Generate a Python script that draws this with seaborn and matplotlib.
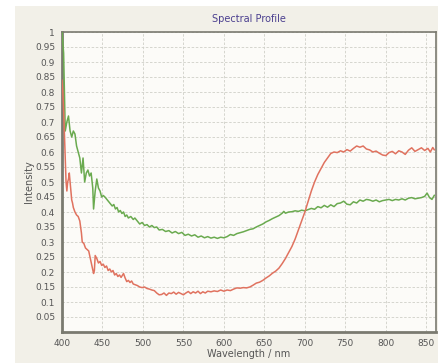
import numpy as np
import pandas as pd
import seaborn as sns
import matplotlib.pyplot as plt
from matplotlib.patches import Rectangle

# Spectral data
green_nm = [400, 402, 404, 406, 408, 410, 412, 414, 416, 418, 420, 422, 424, 426, 428, 430,
            432, 434, 436, 438, 439, 441, 443, 445, 447, 449, 451, 453, 456, 459, 462, 464,
            466, 468, 470, 472, 474, 476, 478, 480, 482, 485, 488, 490, 493, 496, 499, 502,
            505, 508, 511, 514, 517, 520, 524, 528, 532, 536, 540, 544, 548, 552, 556, 560,
            564, 568, 572, 576, 580, 584, 588, 592, 596, 600, 604, 608, 612, 616, 620, 624,
            628, 632, 636, 640, 644, 648, 652, 656, 660, 664, 668, 672, 674, 676, 680, 684,
            688, 692, 696, 700, 704, 708, 712, 716, 720, 724, 728, 732, 736, 740, 744, 748,
            752, 756, 760, 764, 768, 772, 776, 780, 784, 788, 792, 796, 800, 804, 808, 812,
            816, 820, 824, 828, 832, 836, 840, 844, 848, 851, 854, 857, 860]
green_val = [1.0, 0.93, 0.67, 0.70, 0.72, 0.67, 0.65, 0.67, 0.66, 0.62, 0.60, 0.58, 0.53, 0.58, 0.50, 0.53,
             0.54, 0.52, 0.53, 0.48, 0.41, 0.47, 0.51, 0.48, 0.47, 0.45, 0.455, 0.45, 0.44, 0.43, 0.42, 0.425,
             0.41, 0.415, 0.40, 0.405, 0.395, 0.40, 0.385, 0.39, 0.38, 0.385, 0.375, 0.38, 0.37, 0.36, 0.365, 0.355,
             0.358, 0.35, 0.355, 0.348, 0.35, 0.34, 0.342, 0.335, 0.338, 0.33, 0.335, 0.328, 0.332, 0.322, 0.326, 0.32,
             0.324, 0.316, 0.32, 0.314, 0.318, 0.313, 0.316, 0.312, 0.316, 0.314, 0.318, 0.325, 0.322, 0.328, 0.331, 0.334,
             0.338, 0.342, 0.344, 0.35, 0.355, 0.36, 0.367, 0.372, 0.378, 0.383, 0.388, 0.396, 0.402, 0.396, 0.40, 0.401,
             0.404, 0.402, 0.406, 0.404, 0.408, 0.412, 0.409, 0.418, 0.414, 0.422, 0.416, 0.424, 0.418, 0.428, 0.43, 0.436,
             0.426, 0.424, 0.434, 0.43, 0.44, 0.436, 0.442, 0.44, 0.436, 0.44, 0.434, 0.438, 0.44, 0.442, 0.438, 0.442,
             0.44, 0.444, 0.44, 0.446, 0.448, 0.444, 0.446, 0.448, 0.452, 0.463, 0.448, 0.442, 0.456]

red_nm = [400, 401, 402, 403, 404, 405, 406, 407, 408, 409, 410, 411, 412, 413, 414, 416,
          418, 420, 422, 424, 425, 427, 429, 431, 433, 435, 437, 439, 440, 441, 443, 445,
          447, 449, 451, 453, 455, 457, 459, 461, 463, 465, 467, 469, 471, 473, 476, 478,
          480, 482, 484, 486, 488, 490, 493, 496, 499, 502, 505, 508, 511, 514, 517, 520,
          523, 526, 529, 532, 535, 538, 541, 544, 547, 550, 553, 556, 559, 562, 565, 568,
          571, 574, 577, 580, 584, 588, 592, 596, 600, 604, 608, 612, 616, 620, 624, 628,
          632, 636, 640, 644, 648, 652, 656, 660, 664, 668, 672, 676, 680, 684, 688, 692,
          696, 700, 704, 708, 712, 716, 720, 724, 728, 732, 736, 740, 744, 748, 752, 756,
          760, 764, 768, 772, 776, 780, 784, 788, 792, 796, 800, 804, 808, 812, 816, 820,
          824, 828, 832, 836, 840, 844, 848, 852, 855, 858, 860]
red_val = [0.84, 0.80, 0.74, 0.66, 0.58, 0.50, 0.47, 0.50, 0.51, 0.53, 0.50, 0.47, 0.44, 0.43, 0.415, 0.40,
           0.39, 0.385, 0.37, 0.33, 0.30, 0.295, 0.28, 0.275, 0.27, 0.245, 0.22, 0.195, 0.205, 0.255, 0.245, 0.23,
           0.235, 0.222, 0.226, 0.215, 0.22, 0.205, 0.21, 0.20, 0.205, 0.19, 0.195, 0.185, 0.19, 0.182, 0.195, 0.18,
           0.168, 0.172, 0.165, 0.17, 0.16, 0.158, 0.155, 0.15, 0.148, 0.15, 0.145, 0.143, 0.14, 0.138, 0.13, 0.124,
           0.125, 0.13, 0.122, 0.13, 0.128, 0.133, 0.126, 0.132, 0.128, 0.124, 0.13, 0.135, 0.128, 0.134, 0.13, 0.136,
           0.128, 0.134, 0.13, 0.136, 0.134, 0.137, 0.135, 0.14, 0.136, 0.14, 0.138, 0.143, 0.147, 0.146, 0.148, 0.147,
           0.15, 0.156, 0.163, 0.166, 0.172, 0.18, 0.187, 0.196, 0.203, 0.213, 0.228, 0.245, 0.265, 0.285, 0.31, 0.34,
           0.37, 0.40, 0.435, 0.47, 0.50, 0.525, 0.545, 0.565, 0.58, 0.595, 0.60, 0.598, 0.604, 0.60, 0.608, 0.603,
           0.612, 0.62, 0.616, 0.62, 0.61, 0.607, 0.60, 0.603, 0.596, 0.59, 0.588, 0.598, 0.602, 0.594, 0.604, 0.60,
           0.592, 0.606, 0.614, 0.602, 0.608, 0.614, 0.605, 0.612, 0.60, 0.615, 0.607]

x_ticks = [400, 450, 500, 550, 600, 650, 700, 750, 800, 850]
y_ticks = [0.05, 0.1, 0.15, 0.2, 0.25, 0.3, 0.35, 0.4, 0.45, 0.5,
           0.55, 0.6, 0.65, 0.7, 0.75, 0.8, 0.85, 0.9, 0.95, 1]
y_labels = ['0.05', '0.1', '0.15', '0.2', '0.25', '0.3', '0.35', '0.4', '0.45', '0.5',
            '0.55', '0.6', '0.65', '0.7', '0.75', '0.8', '0.85', '0.9', '0.95', '1']

sns.set_style('white')
plt.rcParams['font.family'] = ['DejaVu Sans']

fig = plt.figure(figsize=(4.47, 3.63), dpi=100)
fig.patch.set_facecolor('white')
# beige panel behind the chart
panel = Rectangle((15 / 447, 0), 423 / 447, 357 / 363, transform=fig.transFigure,
                  facecolor='#f2f0e8', edgecolor='none', zorder=-10)
fig.add_artist(panel)

ax = fig.add_axes([62 / 447, 31 / 363, 374 / 447, 300 / 363])
ax.set_facecolor('#fcfbf8')

green_df = pd.DataFrame({'nm': green_nm, 'val': green_val})
red_df = pd.DataFrame({'nm': red_nm, 'val': red_val})
sns.lineplot(data=green_df, x='nm', y='val', color='#6aaa4f', linewidth=1.1, ax=ax, zorder=4)
sns.lineplot(data=red_df, x='nm', y='val', color='#e0725f', linewidth=1.1, ax=ax, zorder=4)

ax.set_xlim(400, 862)
ax.set_ylim(0, 1)
ax.set_xticks(x_ticks)
ax.set_yticks(y_ticks)
ax.set_yticklabels(y_labels)
ax.grid(True, color='#cfcfc8', linestyle=(0, (3, 2)), linewidth=0.6)
ax.set_axisbelow(True)
ax.tick_params(axis='both', labelsize=6.5, colors='#555555', length=3, width=0.6, pad=2)
for s in ax.spines.values():
    s.set_color('#7a7a70')
    s.set_linewidth(1.2)
ax.spines['left'].set_linewidth(2.0)
ax.spines['bottom'].set_linewidth(2.0)

ax.set_xlabel('Wavelength / nm', fontsize=7, color='#555555', labelpad=1)
ax.set_ylabel('Intensity', fontsize=7, color='#555555', labelpad=1)
ax.set_title('Spectral Profile', fontsize=7, color='#4b3f8f', pad=7)

fig.savefig('out.png', dpi=100)
